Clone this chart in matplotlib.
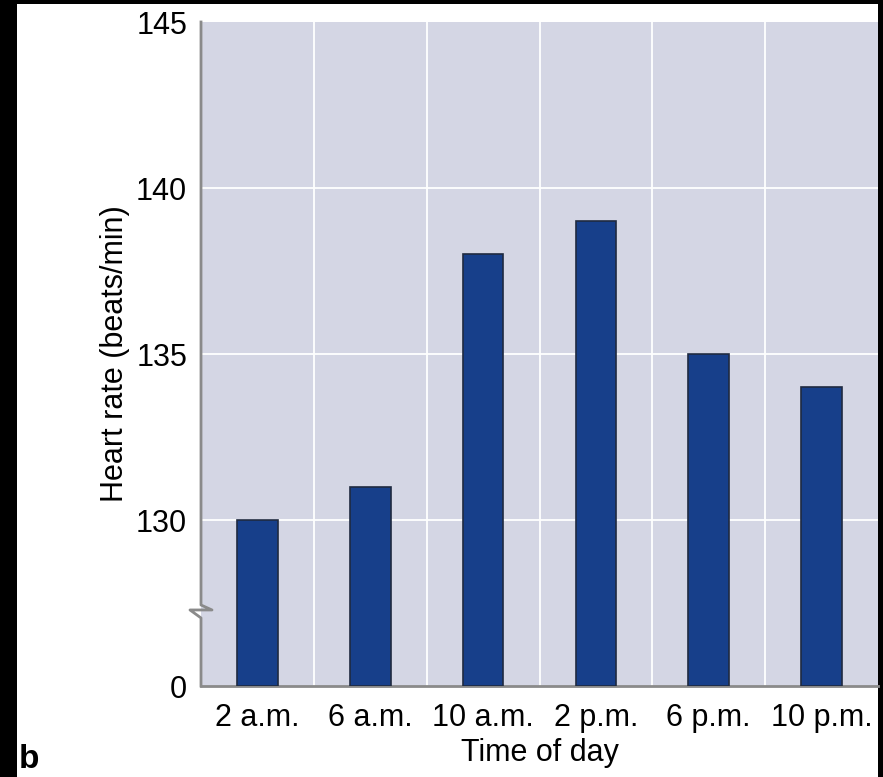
import matplotlib.pyplot as plt
import matplotlib.patches as mpatches
from matplotlib.transforms import blended_transform_factory

# данные с картинки
times = ["2 a.m.", "6 a.m.", "10 a.m.", "2 p.m.", "6 p.m.", "10 p.m."]
heart_rate = [130, 131, 138, 139, 135, 134]
y_ticks = [125, 130, 135, 140, 145]
y_tick_labels = ["0", "130", "135", "140", "145"]

plt.rcParams['font.family'] = ['Liberation Sans', 'DejaVu Sans']

fig = plt.figure(figsize=(8.83, 7.77), dpi=100, facecolor="black")
# белая подложка с чёрными полосами слева, сверху и справа
fig.patches.append(mpatches.Rectangle((17 / 883, 0), (878 - 17) / 883, (777 - 4) / 777,
                                      transform=fig.transFigure, facecolor="white",
                                      edgecolor="none", zorder=-10))

ax = fig.add_axes([201 / 883, 91 / 777, 677 / 883, 664 / 777])
ax.set_facecolor("#d4d6e4")

x = range(len(times))
ax.bar(x, [v - 125 for v in heart_rate], bottom=125, width=0.36,
       color="#173f8a", edgecolor="#1f2a40", linewidth=1.2, zorder=3)

ax.set_xlim(-0.5, len(times) - 0.5)
ax.set_ylim(125, 145)
ax.set_xticks(list(x))
ax.set_xticklabels(times, fontsize=22)
ax.set_yticks(y_ticks)
ax.set_yticklabels(y_tick_labels, fontsize=22)
ax.tick_params(axis="y", length=0, pad=10)
ax.tick_params(axis="x", length=0, pad=12)

# сетка белая: горизонтальные и между категориями
for yv in [130, 135, 140]:
    ax.axhline(yv, color="white", linewidth=1.3, zorder=1)
for xv in [0.5, 1.5, 2.5, 3.5, 4.5]:
    ax.axvline(xv, color="white", linewidth=1.3, zorder=1)

for s in ["top", "right", "left"]:
    ax.spines[s].set_visible(False)
ax.spines["bottom"].set_color("#8a8a8a")
ax.spines["bottom"].set_linewidth(2)

# левая ось с разрывом
tr = blended_transform_factory(ax.transAxes, ax.transData)
dx = 11 / 677
ax.plot([0, 0, dx, -dx, 0, 0], [145, 127.44, 127.29, 127.29, 127.05, 125],
        transform=tr, color="#8a8a8a", linewidth=2, clip_on=False, zorder=5)

ax.set_ylabel("Heart rate (beats/min)", fontsize=22, labelpad=4)
ax.set_xlabel("Time of day", fontsize=22, labelpad=4)

fig.text(19 / 883, 1 - 760 / 777, "b", fontsize=24, fontweight="bold", va="center")

fig.savefig("out.png", dpi=100, facecolor=fig.get_facecolor())
